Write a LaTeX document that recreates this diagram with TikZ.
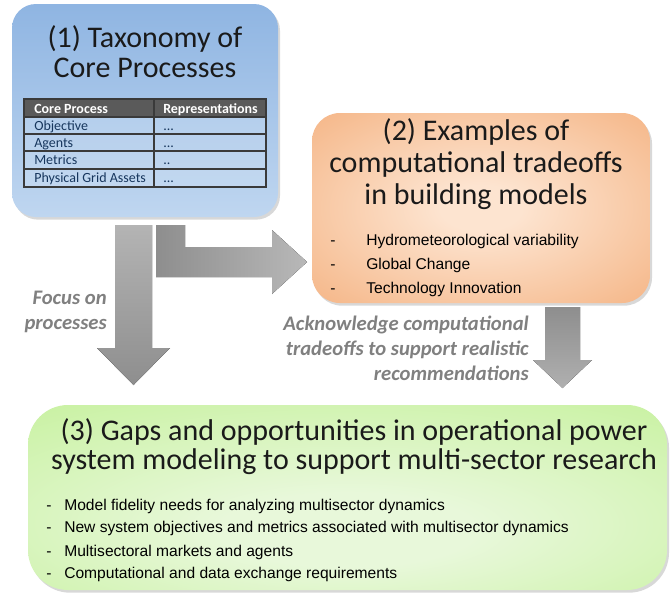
\documentclass[tikz,border=0pt]{standalone}
\usepackage{fontspec}
\setmainfont{Carlito}
\newfontfamily\arialf{Liberation Sans}
\usetikzlibrary{shadows}
\definecolor{titlecol}{HTML}{1A1A1A}
\definecolor{bluetop}{HTML}{8FB5E2}
\definecolor{bluebot}{HTML}{BFD6F0}
\definecolor{orin}{HTML}{FDE4D0}
\definecolor{orout}{HTML}{F2A66E}
\definecolor{grin}{HTML}{E8F8DA}
\definecolor{grout}{HTML}{B8EE84}
\definecolor{headgray}{HTML}{5A5A5A}
\definecolor{tabline}{HTML}{3A3A3A}
\definecolor{tabtext}{HTML}{17365D}
\definecolor{labgray}{HTML}{808080}
\definecolor{arrdark}{HTML}{8E8E8E}
\definecolor{arrlight}{HTML}{B8B8B8}
\pgfdeclareradialshading{orshade}{\pgfpoint{0bp}{0bp}}{color(0bp)=(orin); color(6bp)=(orin); color(46bp)=(orout); color(72bp)=(orout)}
\pgfdeclareradialshading{grshade}{\pgfpoint{0bp}{-10bp}}{color(0bp)=(grin); color(10bp)=(grin); color(55bp)=(grout); color(80bp)=(grout)}
\newcommand\titlefont{\fontsize{22.5}{27}\selectfont}
\newcommand\tabfont{\fontsize{10.5}{12}\selectfont}
\newcommand\bulletfont{\arialf\fontsize{11.7}{14}\selectfont}
\newcommand\labfont{\bfseries\itshape\fontsize{15.5}{18}\selectfont}
\begin{document}
\begin{tikzpicture}[x=0.75pt,y=-0.75pt,
  box/.style={draw=none, inner sep=0pt, drop shadow={opacity=0.3, shadow xshift=1.5pt, shadow yshift=-2pt}},
  ttl/.style={anchor=base, text=titlecol, font=\titlefont, inner sep=0pt},
  tcell/.style={anchor=base west, text=tabtext, font=\tabfont, inner sep=0pt},
  thead/.style={anchor=base west, text=white, font=\tabfont\bfseries, inner sep=0pt},
  bul/.style={anchor=base west, text=black, font=\bulletfont, inner sep=0pt},
  lab/.style={anchor=base east, text=labgray, font=\labfont, inner sep=0pt},
  blockarrow/.style={draw=none}
]
\useasboundingbox (0,0) rectangle (670,593);
\fill[white] (0,0) rectangle (670,593);

% block arrows
\fill[blockarrow, top color=arrlight!90!arrdark, bottom color=arrdark]
  (115,225) -- (152,225) -- (152,348) -- (170,348) -- (133.5,385) -- (97,348) -- (115,348) -- cycle;
\fill[blockarrow, left color=arrdark, right color=arrlight]
  (156,225) -- (185,225) -- (185,247) -- (272,247) -- (272,230) -- (307,262) -- (272,294) -- (272,277) -- (156,277) -- cycle;
\fill[blockarrow, top color=arrdark, bottom color=arrlight!80!arrdark]
  (545,307) -- (580,307) -- (580,360) -- (592,360) -- (562.5,388) -- (533,360) -- (545,360) -- cycle;

% box 1
\node[box, rounded corners=18pt, top color=bluetop, bottom color=bluebot,
  minimum width=199.5pt, minimum height=159.75pt] (tax) at (145,110.5) {};
\node[ttl] (taxa) at (145,47) {(1) Taxonomy of};
\node[ttl] (taxb) at (145,77) {Core Processes};

% table
\fill[white, opacity=0.15] (24,117) rectangle (266,187);
\fill[headgray] (24,99) rectangle (266,117);
\draw[tabline, line width=1.1pt] (24,99) rectangle (266,187);
\foreach \yy in {117,134,151,169} \draw[tabline, line width=1.1pt] (24,\yy) -- (266,\yy);
\draw[tabline, line width=1.1pt] (154,99) -- (154,187);
\node[thead] (h1) at (34,113) {Core Process};
\node[thead] (h2) at (163,113) {Representations};
\node[tcell] (r1a) at (34,130) {Objective};
\node[tcell] (r1b) at (163,130) {...};
\node[tcell] (r2a) at (34,147) {Agents};
\node[tcell] (r2b) at (163,147) {...};
\node[tcell] (r3a) at (34,164) {Metrics};
\node[tcell] (r3b) at (163,164) {..};
\node[tcell] (r4a) at (34,182) {Physical Grid Assets};
\node[tcell] (r4b) at (163,182) {...};

% box 2
\node[box, rounded corners=21pt, shade, shading=orshade,
  minimum width=253.5pt, minimum height=142.5pt] (ex) at (481,208) {};
\node[ttl] (exa) at (476,140) {(2) Examples of};
\node[ttl] (exb) at (476,172) {computational tradeoffs};
\node[ttl] (exc) at (476,204) {in building models};
\node[bul] (d1) at (330,245) {-};
\node[bul] (b1) at (366,245) {Hydrometeorological variability};
\node[bul] (d2) at (330,269) {-};
\node[bul] (b2) at (366,269) {Global Change};
\node[bul] (d3) at (330,293) {-};
\node[bul] (b3) at (366,293) {Technology Innovation};

% labels
\node[lab] (f1) at (107,304) {Focus on};
\node[lab] (f2) at (107,329) {processes};
\node[lab] (k1) at (529,330) {Acknowledge computational};
\node[lab] (k2) at (529,355) {tradeoffs to support realistic};
\node[lab] (k3) at (529,380) {recommendations};

% box 3
\node[box, rounded corners=30pt, shade, shading=grshade,
  minimum width=479.25pt, minimum height=138.75pt] (gap) at (347.5,497.5) {};
\node[ttl] (gapa) at (354,440) {(3) Gaps and opportunities in operational power};
\node[ttl] (gapb) at (354,469) {system modeling to support multi-sector research};
\node[bul] (e1) at (46,510) {-};
\node[bul] (g1) at (64,510) {Model fidelity needs for analyzing multisector dynamics};
\node[bul] (e2) at (46,532) {-};
\node[bul] (g2) at (64,532) {New system objectives and metrics associated with multisector dynamics};
\node[bul] (e3) at (46,556) {-};
\node[bul] (g3) at (64,556) {Multisectoral markets and agents};
\node[bul] (e4) at (46,578) {-};
\node[bul] (g4) at (64,578) {Computational and data exchange requirements};
\end{tikzpicture}
\end{document}
